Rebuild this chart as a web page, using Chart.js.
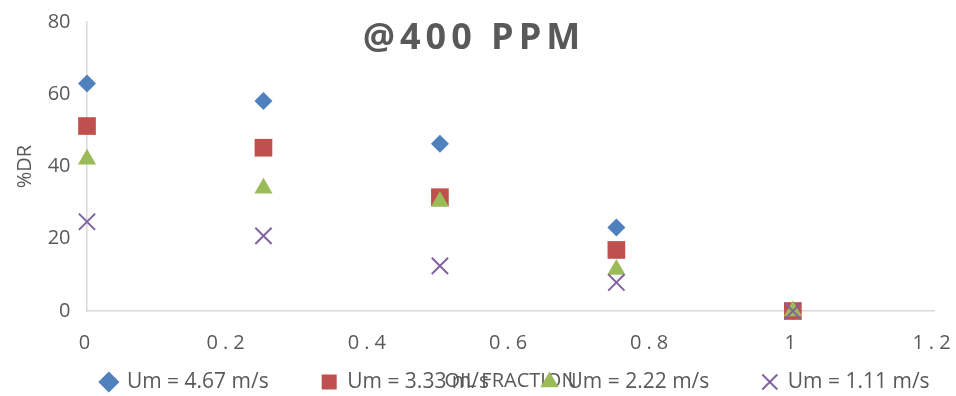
<!DOCTYPE html>
<html>
<head>
<meta charset="utf-8">
<script src="https://cdn.jsdelivr.net/npm/chart.js@4.4.1/dist/chart.umd.min.js"></script>
<style>
  html, body { margin: 0; padding: 0; background: #fff; }
  #wrap { width: 956px; height: 396px; }
</style>
</head>
<body>
<div id="wrap"><canvas id="dr" width="956" height="396"></canvas></div>
<script>
// values
const oilFraction = [0, 0.25, 0.5, 0.75, 1];
const um467 = [63.0, 58.1, 46.3, 23.1, 0];
const um333 = [51.2, 45.2, 31.5, 16.9, 0];
const um222 = [42.0, 34.0, 30.3, 11.5, 0];
const um111 = [24.7, 20.8, 12.5, 7.9, 0];
const seriesNames = ['Um = 4.67 m/s', 'Um = 3.33 m/s', 'Um = 2.22 m/s', 'Um = 1.11 m/s'];
const xTicks = [0, 0.2, 0.4, 0.6, 0.8, 1, 1.2];
const yTicks = [0, 20, 40, 60, 80];

const grey = '#595959';
const axisLine = '#D9D9D9';
const family = 'Open Sans';

const toPoints = ys => ys.map((y, i) => ({ x: oilFraction[i], y: y }));

const series = [
  { values: um467, color: '#4F81BD', style: 'rectRot', radius: 9 },
  { values: um333, color: '#C0504D', style: 'rect', radius: 12.5 },
  { values: um222, color: '#9BBB59', style: 'triangle', radius: 10.5 },
  { values: um111, color: '#8064A2', style: 'crossRot', radius: 11.5 }
];

// excel paints later series on top, chart.js paints the first dataset last -> reverse, legend reversed back
const datasets = series.map((s, i) => ({
  label: seriesNames[i],
  data: toPoints(s.values),
  pointStyle: s.style,
  pointRadius: s.radius,
  pointHoverRadius: s.radius,
  backgroundColor: s.color,
  borderColor: s.color,
  pointBorderWidth: s.style === 'crossRot' ? 2 : 0,
  clip: false
})).reverse();

function wrap(obj, name, setup) {
  if (!obj || obj[name].wrapped) return;
  const orig = obj[name];
  const fn = function (...args) {
    this.ctx.save();
    setup.call(this, this.ctx);
    orig.apply(this, args);
    this.ctx.restore();
  };
  fn.wrapped = true;
  obj[name] = fn;
}

// spaced title / x labels like the original, legend centred under the plot area
const finishing = {
  id: 'finishing',
  beforeDraw(chart) {
    const x = chart.scales.x;
    x._computeLabelArea = () => undefined; // x box is squeezed, don't clip its labels
    wrap(chart.titleBlock, 'draw', ctx => { ctx.letterSpacing = '5px'; ctx.translate(-4, 0); });
    wrap(x, 'drawLabels', ctx => { ctx.letterSpacing = '5px'; });
    wrap(chart.legend, 'draw', function (ctx) {
      const a = chart.chartArea;
      ctx.translate((a.left + a.right - this.left - this.right) / 2 + 5, 0);
    });
  }
};

new Chart(document.getElementById('dr'), {
  type: 'scatter',
  data: { datasets: datasets },
  plugins: [finishing],
  options: {
    responsive: false,
    animation: false,
    layout: { padding: { top: 0, right: 0, bottom: -6.5, left: 0 } },
    plugins: {
      title: {
        display: true,
        text: '@400 PPM',
        color: grey,
        font: { family: family, size: 36, weight: 'bold' },
        padding: { top: 17.4, bottom: -38.6 }
      },
      legend: {
        position: 'bottom',
        reverse: true,
        labels: {
          usePointStyle: true,
          boxWidth: 15,
          boxHeight: 15,
          padding: 53,
          color: grey,
          font: { family: family, size: 21 }
        }
      },
      tooltip: { enabled: false }
    },
    scales: {
      x: {
        type: 'linear',
        min: 0,
        max: 1.2,
        grid: { display: false, drawTicks: false },
        border: { color: axisLine, width: 1.5 },
        afterBuildTicks: s => { s.ticks = xTicks.map(v => ({ value: v })); },
        ticks: {
          color: grey,
          font: { family: family, size: 20 },
          padding: 20,
          maxRotation: 0,
          callback: v => String(+v.toFixed(1))
        },
        title: {
          display: true,
          text: 'OIL FRACTION',
          color: grey,
          font: { family: family, size: 20 },
          padding: { top: 0, bottom: -74.5 }
        },
        afterFit: s => { s.height = 7.5; s.paddingRight = 22; }
      },
      y: {
        min: 0,
        max: 80,
        grid: { display: false, drawTicks: false },
        border: { color: axisLine, width: 1.5 },
        afterBuildTicks: s => { s.ticks = yTicks.map(v => ({ value: v })); },
        ticks: {
          color: grey,
          font: { family: family, size: 20 },
          padding: 16.5
        },
        title: {
          display: true,
          text: '%DR',
          color: grey,
          font: { family: family, size: 20 },
          padding: { top: 13, bottom: 0 }
        },
        afterFit: s => { s.width = 87; s.paddingTop = 0; }
      }
    }
  }
});
</script>
</body>
</html>
